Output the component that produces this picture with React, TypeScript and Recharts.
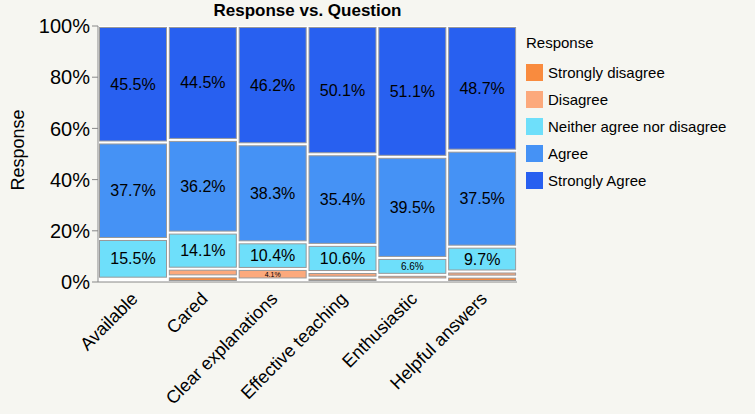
import React from 'react';
import { BarChart, Bar, XAxis, YAxis, LabelList } from 'recharts';

const questions = ['Available', 'Cared', 'Clear explanations', 'Effective teaching', 'Enthusiastic', 'Helpful answers'];
const stronglyDisagree = [0.7, 2.2, 1.0, 1.7, 1.0, 2.1];
const disagree = [0.6, 3.0, 4.1, 2.2, 1.8, 2.0];
const neither = [15.5, 14.1, 10.4, 10.6, 6.6, 9.7];
const agree = [37.7, 36.2, 38.3, 35.4, 39.5, 37.5];
const stronglyAgree = [45.5, 44.5, 46.2, 50.1, 51.1, 48.7];
const yTicks = [0, 20, 40, 60, 80, 100];

const series = [
  { key: 'sd', name: 'Strongly disagree', color: '#F98B3E', values: stronglyDisagree },
  { key: 'd', name: 'Disagree', color: '#FCA97C', values: disagree },
  { key: 'n', name: 'Neither agree nor disagree', color: '#6EDFFA', values: neither },
  { key: 'a', name: 'Agree', color: '#4592F5', values: agree },
  { key: 'sa', name: 'Strongly Agree', color: '#2860F0', values: stronglyAgree },
];

const data = questions.map((q, i) => {
  const row: any = { q };
  series.forEach((s) => (row[s.key] = s.values[i]));
  return row;
});

const Seg = (props: any) => {
  const { x, y, width, height, fill } = props;
  if (!height || height <= 0) return null;
  return (
    <g>
      <rect x={x} y={y} width={width} height={height} fill="#fff" />
      <rect x={x + 1.5} y={y + 1.5} width={Math.max(width - 3, 0)} height={Math.max(height - 3, 0)} fill={fill} stroke="#999" strokeWidth={1} />
    </g>
  );
};

const SegLabel = (props: any) => {
  const { x, y, width, height, value } = props;
  if (value < 4) return null;
  const size = value < 5 ? 7 : value < 8 ? 10 : 16;
  return (
    <text x={x + width / 2} y={y + height / 2} textAnchor="middle" dominantBaseline="central" fontSize={size} fill="#000">
      {value.toFixed(1)}%
    </text>
  );
};

const XTick = (props: any) => {
  const { x, y, payload } = props;
  return (
    <text x={x + 6} y={y + 10} textAnchor="end" fontSize={18} fill="#000" transform={`rotate(-45 ${x + 6} ${y + 10})`}>
      {payload.value}
    </text>
  );
};

export default function App() {
  return (
    <div style={{ position: 'absolute', left: 0, top: 0, width: 755, height: 414, background: '#F6F6F1', fontFamily: 'Helvetica, Arial, "Liberation Sans", sans-serif' }}>
      <div style={{ position: 'absolute', left: 98, top: 1, width: 419, textAlign: 'center', fontWeight: 'bold', fontSize: 17 }}>Response vs. Question</div>
      <div style={{ position: 'absolute', left: 8, top: 200, transform: 'rotate(-90deg)', transformOrigin: 'left top', fontSize: 18, width: 100, textAlign: 'center' }}>
        Response
      </div>
      <BarChart width={755} height={414} data={data} barCategoryGap={0} margin={{ top: 26, right: 238, left: 0, bottom: 0 }}>
        <rect x={98} y={26} width={419} height={256} fill="#fff" />
        <XAxis dataKey="q" height={132} tick={<XTick />} tickLine={false} axisLine={{ stroke: '#888' }} interval={0} />
        <YAxis width={98} domain={[0, 100]} ticks={yTicks} tickFormatter={(v) => `${v}%`} tick={{ fontSize: 20, fill: '#000' }} axisLine={{ stroke: '#888' }} tickLine={{ stroke: '#888' }} />
        {series.map((s) => (
          <Bar key={s.key} dataKey={s.key} stackId="x" fill={s.color} shape={<Seg />} isAnimationActive={false}>
            <LabelList dataKey={s.key} content={<SegLabel />} />
          </Bar>
        ))}
      </BarChart>
      <div style={{ position: 'absolute', left: 526, top: 34, fontSize: 15 }}>
        <div style={{ marginBottom: 8 }}>Response</div>
        {series.map((s) => (
          <div key={s.key} style={{ display: 'flex', alignItems: 'center', height: 27 }}>
            <span style={{ width: 17, height: 17, background: s.color, display: 'inline-block', marginRight: 5 }} />
            {s.name}
          </div>
        ))}
      </div>
    </div>
  );
}
